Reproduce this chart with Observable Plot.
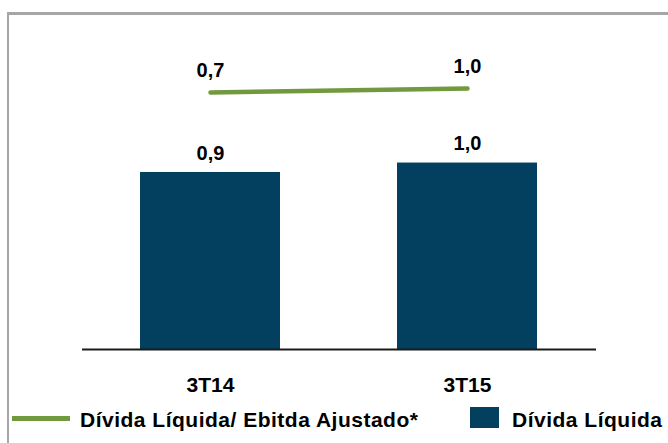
<!DOCTYPE html>
<html>
<head>
<meta charset="utf-8">
<script src="https://cdn.jsdelivr.net/npm/d3@7"></script>
<script src="https://cdn.jsdelivr.net/npm/@observablehq/plot@0.6"></script>
<style>
  html, body { margin: 0; padding: 0; background: #fff; overflow: hidden; }
  body { width: 668px; height: 443px; position: relative; font-family: "Liberation Sans", Arial, sans-serif; }
  #frame { position: absolute; left: 7px; top: 12px; width: 720px; height: 520px;
           border-left: 2.5px solid #a6a6a6; border-top: 3px solid #a6a6a6; box-sizing: border-box; }
  #chart { position: absolute; left: 0; top: 0; }
  .lg { position: absolute; font-weight: bold; font-size: 21px; line-height: 21px; letter-spacing: 0.5px; color: #000; white-space: nowrap; }
  .sw-line { position: absolute; left: 12px; top: 416px; width: 58px; height: 4.5px; background: #71993d; }
  .sw-box { position: absolute; left: 470px; top: 407px; width: 29px; height: 21px; background: #033f5e; }
</style>
</head>
<body>
<div id="frame"></div>
<div id="chart"></div>
<div class="sw-line"></div>
<div class="lg" style="left:80px; top:409px;">Dívida Líquida/ Ebitda Ajustado*</div>
<div class="sw-box"></div>
<div class="lg" style="left:512px; top:409px;">Dívida Líquida</div>
<script>
// Data
const periods = ["3T14", "3T15"];
const dividaLiquida = [0.94, 0.99];          // bars (labels 0,9 / 1,0)
const dividaEbitda = [0.7, 1.0];             // line on secondary axis
const barLabels = ["0,9", "1,0"];
const lineLabels = ["0,7", "1,0"];

const bars = periods.map((p, i) => ({period: p, value: dividaLiquida[i], label: barLabels[i]}));
const line = periods.map((p, i) => ({period: p, value: dividaEbitda[i], label: lineLabels[i]}));

// primary axis domain and secondary axis (like Excel's secondary y axis)
const yDomain = [0, 1.784];
const secondary = d3.scaleLinear().domain([-18.575, 6.625]).range(yDomain);

const green = "#71993d";
const navy = "#033f5e";

const chart = Plot.plot({
  width: 668,
  height: 400,
  marginLeft: 82,
  marginRight: 72,
  marginTop: 13,
  marginBottom: 51,
  style: {fontFamily: "Liberation Sans, Arial, sans-serif", fontSize: "20px", color: "#000", background: "transparent", overflow: "visible"},
  x: {domain: periods, paddingInner: 0.454, paddingOuter: 0.227, label: null},
  y: {domain: yDomain, axis: null},
  marks: [
    Plot.barY(bars, {x: "period", y: "value", fill: navy}),
    Plot.ruleY([0], {stroke: "#1a1a1a", strokeWidth: 2}),
    Plot.axisX({tickSize: 0, tickPadding: 28, fontSize: 21, fontWeight: "bold", label: null}),
    Plot.text(bars, {x: "period", y: "value", text: "label", dy: -19, fontSize: 20, fontWeight: "bold", fill: "#000"}),
    Plot.line(line, {x: "period", y: d => secondary(d.value), stroke: green, strokeWidth: 4.5}),
    Plot.text(line, {x: "period", y: d => secondary(d.value), text: "label", dy: -22, fontSize: 20, fontWeight: "bold", fill: "#000"})
  ]
});
document.getElementById("chart").appendChild(chart);
</script>
</body>
</html>
